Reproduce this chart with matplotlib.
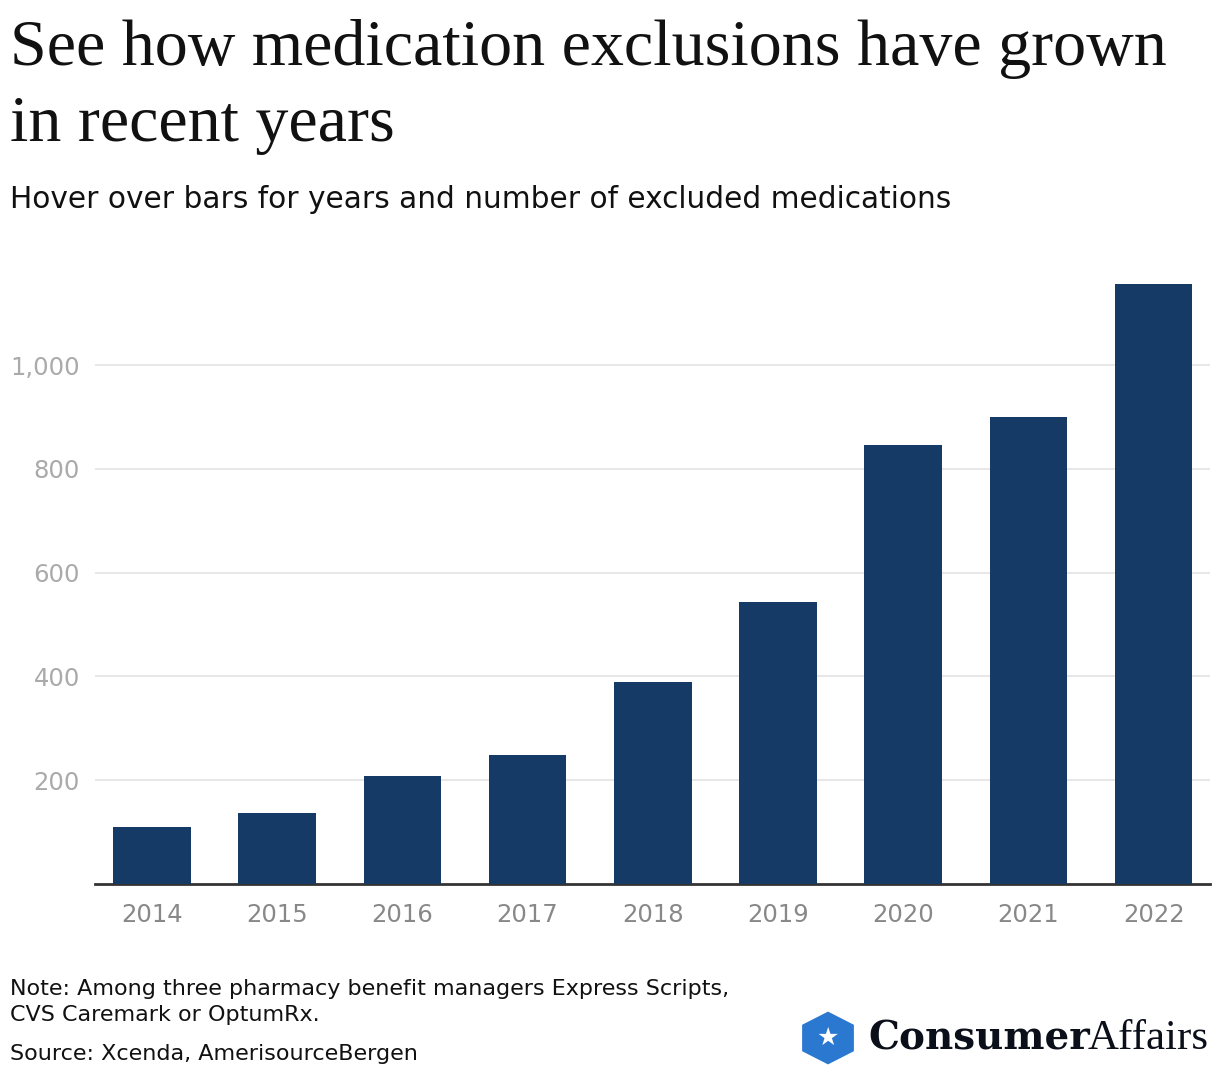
import matplotlib.pyplot as plt
from matplotlib.patches import RegularPolygon

years = ['2014', '2015', '2016', '2017', '2018', '2019', '2020', '2021', '2022']
exclusions = [110, 137, 208, 249, 389, 543, 846, 900, 1156]
y_ticks = [200, 400, 600, 800, 1000]
y_tick_labels = ['200', '400', '600', '800', '1,000']

bar_color = '#163a66'
sans = 'DejaVu Sans'

fig = plt.figure(figsize=(12.2, 10.78), dpi=100)
ax = fig.add_axes([0.0779, 0.18, 0.9139, 0.5584])

x = list(range(len(years)))
ax.bar(x, exclusions, width=0.62, color=bar_color, zorder=3)

ax.set_xlim(-0.455, 8.45)
ax.set_ylim(0, 1160)
ax.set_yticks(y_ticks)
ax.set_yticklabels(y_tick_labels)
ax.set_xticks(x)
ax.set_xticklabels(years)

ax.grid(axis='y', color='#e3e3e3', linewidth=1.2, zorder=0)
for side in ['top', 'right', 'left']:
    ax.spines[side].set_visible(False)
ax.spines['bottom'].set_color('#333333')
ax.spines['bottom'].set_linewidth(2)
ax.tick_params(axis='y', length=0, pad=11, labelsize=17.5, labelcolor='#aaaaaa')
ax.tick_params(axis='x', length=0, pad=14, labelsize=17.5, labelcolor='#888888')
for lbl in ax.get_xticklabels() + ax.get_yticklabels():
    lbl.set_family(sans)

fig.text(0.008, 0.982, 'See how medication exclusions have grown\nin recent years',
         family='Liberation Serif', fontsize=47.5, color='#111111',
         va='top', ha='left', linespacing=1.36)
fig.text(0.008, 0.815, 'Hover over bars for years and number of excluded medications',
         family=sans, fontsize=21.3, color='#111111', va='center', ha='left')

fig.text(0.008, 0.0705, 'Note: Among three pharmacy benefit managers Express Scripts,\nCVS Caremark or OptumRx.',
         family=sans, fontsize=16, color='#111111', va='center', ha='left',
         linespacing=1.35)
fig.text(0.008, 0.0225, 'Source: Xcenda, AmerisourceBergen',
         family=sans, fontsize=16, color='#111111', va='center', ha='left')

# logo
hexagon = RegularPolygon((828 / 1220, 1 - 1038 / 1078), numVertices=6, radius=0.0245,
                         orientation=0, facecolor='#2b78d0', edgecolor='none')
hexagon.set_transform(fig.transFigure)
fig.patches.append(hexagon)
fig.text(828 / 1220, 1 - 1038 / 1078, '\u2605', family='DejaVu Sans', fontsize=18,
         color='white', ha='center', va='center')
fig.text(1090 / 1220, 1 - 1039 / 1078, 'Consumer', family='DejaVu Serif',
         fontweight='bold', fontsize=28, color='#0a0f1a', ha='right', va='center')
fig.text(1209 / 1220, 1 - 1039 / 1078, 'Affairs', family='Liberation Serif',
         fontsize=31, color='#0a0f1a', ha='right', va='center')

fig.savefig('out.png', dpi=100)
